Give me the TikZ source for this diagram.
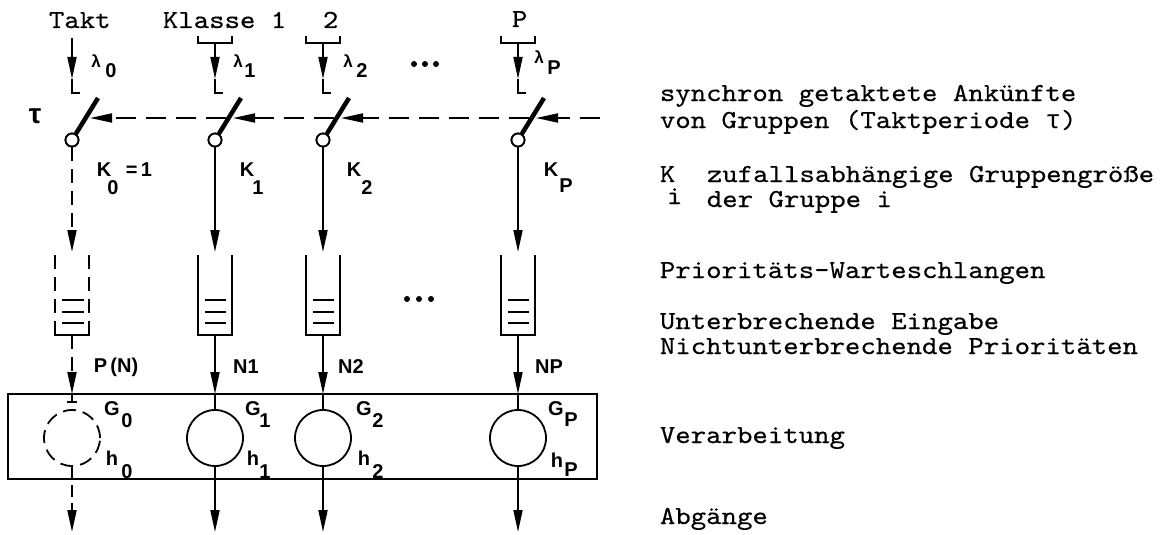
\documentclass[tikz,border=0pt]{standalone}
\usepackage{fontspec}
\setmainfont{Liberation Serif}
\newfontfamily\twfont{lmmono10-regular.otf}[FakeStretch=1.13,FakeBold=0.4]
\newfontfamily\taufont{Liberation Mono}
\newfontfamily\lblfont{Liberation Sans}
\usetikzlibrary{arrows.meta}
\begin{document}
\begin{tikzpicture}[x=1pt,y=-1pt,line width=1.8pt,
  tw/.style={font=\twfont\fontsize{26}{28}\selectfont,inner sep=0pt,anchor=base west},
  lab/.style={font=\lblfont\bfseries\fontsize{20}{20}\selectfont,inner sep=0pt},
  lam/.style={font=\lblfont\bfseries\fontsize{17}{17}\selectfont,inner sep=0pt},
  arr/.style={-{Triangle[length=22pt,width=9pt]}},
  vdash/.style={dash pattern=on 14pt off 8pt},
  hdash/.style={dash pattern=on 20pt off 10pt},
  swc/.style={circle,draw,fill=white,minimum size=13pt,inner sep=0pt},
  srv/.style={circle,draw,minimum size=56pt,inner sep=0pt},
  bar/.style={line width=4.5pt},
  dotc/.style={circle,fill,inner sep=0pt,minimum size=6pt}]
\useasboundingbox (0,0) rectangle (1175,535);

% ---------- top labels
\node[tw] (takt) at (48,28) {Takt};
\node[tw] (klasse) at (162,28) {Klasse 1};
\node[tw] (k2) at (322,28) {2};
\node[tw] (kP) at (511,27) {P};

% ---------- box
\draw (8,394) rectangle (597,479);

% ---------- column 0 (Takt)
\coordinate (t0) at (72,38);
\coordinate (lt0) at (72,79);
\draw[arr] (t0) -- (lt0);
\draw (lt0) -- (72,93) -- (80,93);
\node[swc] (sw0) at (72,140) {};
\coordinate (bt0) at (98,98);
\coordinate (qa0) at (72,252);
\draw[vdash,arr] (sw0) -- (qa0);
\draw[vdash] (55,255) -- (55,328);
\draw[vdash] (89,255) -- (89,328);
\draw (55,326) -- (55,335) -- (89,335) -- (89,326);
\foreach \yy in {300,312,323} \draw (62,\yy) -- (84,\yy);
\coordinate (qb0) at (72,335);
\coordinate (in0) at (72,394);
\draw[vdash,arr] (qb0) -- (in0);
\node[srv,dash pattern=on 13pt off 7pt] (g0) at (72,438) {};
\draw (in0) -- (72,402);
\draw (67,402) -- (77,402);
\coordinate (out0) at (72,532);
\draw[dash pattern=on 12pt off 6pt,arr] (g0.south) -- (out0);

% ---------- columns 1,2,P
\foreach \n/\X in {1/215,2/323,P/518}{
  \coordinate (bk\n) at (\X,43);
  \draw (\X-17,36) -- (\X-17,43) -- (\X+17,43) -- (\X+17,36);
  \coordinate (lt\n) at (\X,79);
  \draw[arr] (bk\n) -- (lt\n);
  \draw (lt\n) -- (\X,93) -- (\X+8,93);
  \node[swc] (sw\n) at (\X,140) {};
  \coordinate (bt\n) at (\X+26,98);
  \coordinate (qa\n) at (\X,252);
  \draw[arr] (sw\n) -- (qa\n);
  \draw (\X-17,255) -- (\X-17,335) -- (\X+17,335) -- (\X+17,255);
  \foreach \yy in {300,312,323} \draw (\X-10,\yy) -- (\X+11,\yy);
  \coordinate (qb\n) at (\X,335);
  \coordinate (in\n) at (\X,394);
  \draw[arr] (qb\n) -- (in\n);
  \node[srv] (g\n) at (\X,438) {};
  \draw (in\n) -- (g\n.north);
  \coordinate (out\n) at (\X,532);
  \draw[arr] (g\n.south) -- (out\n);
}

% ---------- clock line (dashed, right to left)
\coordinate (clk) at (600,118);
\coordinate (ct0) at (90,118);
\coordinate (ct1) at (233,118);
\coordinate (ct2) at (341,118);
\coordinate (ctP) at (536,118);
\coordinate (cs1) at (226,118);
\coordinate (cs2) at (334,118);
\coordinate (csP) at (529,118);
\draw[hdash,arr] (clk) -- (ctP);
\draw[hdash,arr] (csP) -- (ct2);
\draw[hdash,arr] (cs2) -- (ct1);
\draw[hdash,arr] (cs1) -- (ct0);
\foreach \n in {0,1,2,P} \draw[bar] (sw\n.58) -- (bt\n);
\foreach \n in {0,1,2,P} \node[swc] at (sw\n) {};
\node[font=\lblfont\bfseries\fontsize{28}{28}\selectfont,inner sep=0pt] (tau) at (35,116) {τ};

% ---------- lambda labels
\node[lam] (l0) at (96,61) {λ};  \node[lab] (l0s) at (111,71) {0};
\node[lam] (l1) at (238,61) {λ}; \node[lab] (l1s) at (250,71) {1};
\node[lam] (l2) at (348,61) {λ}; \node[lab] (l2s) at (362,71) {2};
\node[lam] (lP) at (539,57) {λ}; \node[lab] (lPs) at (554,68) {P};

% ---------- K labels
\node[lab] (K0) at (104,170) {K}; \node[lab] (K0s) at (113,188) {0};
\node[lab] (K0e) at (139,170) {=\,1};
\node[lab] (K1) at (247,170) {K}; \node[lab] (K1s) at (258,188) {1};
\node[lab] (K2) at (354,170) {K}; \node[lab] (K2s) at (367,188) {2};
\node[lab] (KP) at (551,170) {K}; \node[lab] (KPs) at (566,186) {P};

% ---------- queue labels
\node[lab] (PN) at (116,367) {P\,(N)};
\node[lab] (N1) at (246,367) {N1};
\node[lab] (N2) at (351,367) {N2};
\node[lab] (NP) at (549,367) {NP};

% ---------- server labels
\node[lab] (G0) at (112,409) {G}; \node[lab] (G0s) at (127,421) {0};
\node[lab] (h0) at (112,458) {h}; \node[lab] (h0s) at (127,472) {0};
\node[lab] (G1) at (253,409) {G}; \node[lab] (G1s) at (265,421) {1};
\node[lab] (h1) at (253,458) {h}; \node[lab] (h1s) at (265,472) {1};
\node[lab] (G2) at (364,409) {G}; \node[lab] (G2s) at (378,421) {2};
\node[lab] (h2) at (364,458) {h}; \node[lab] (h2s) at (378,472) {2};
\node[lab] (GP) at (556,409) {G}; \node[lab] (GPs) at (571,420) {P};
\node[lab] (hP) at (557,460) {h}; \node[lab] (hPs) at (571,470) {P};

% ---------- ellipses
\foreach \xx [count=\k] in {414,425,436} \node[dotc] (da\k) at (\xx,64) {};
\foreach \xx [count=\k] in {407,419,431} \node[dotc] (db\k) at (\xx,299) {};

% ---------- legend
\node[tw] (r1) at (659,101) {synchron getaktete Ankünfte};
\node[tw] (r2) at (659,128) {von Gruppen (Taktperiode {\taufont τ})};
\node[tw] (r3) at (659,182) {K};
\node[tw] (r3i) at (666,204) {i};
\node[tw] (r3t) at (706,182) {zufallsabhängige Gruppengröße};
\node[tw] (r4) at (706,207) {der Gruppe i};
\node[tw] (r5) at (659,278) {Prioritäts-Warteschlangen};
\node[tw] (r6) at (659,329) {Unterbrechende Eingabe};
\node[tw] (r7) at (659,354) {Nichtunterbrechende Prioritäten};
\node[tw] (r8) at (659,443) {Verarbeitung};
\node[tw] (r9) at (659,524) {Abgänge};
\end{tikzpicture}
\end{document}
